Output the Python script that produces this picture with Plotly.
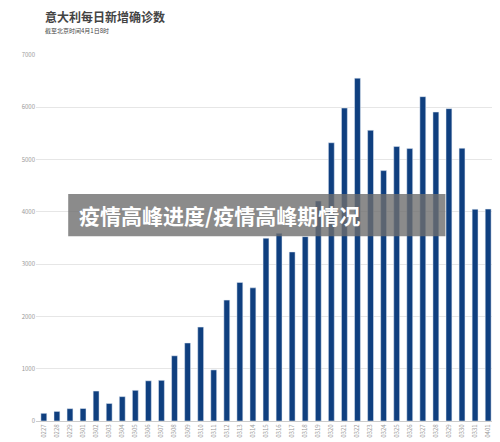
import plotly.graph_objects as go

dates = ["0227", "0228", "0229"] + ["03%02d" % d for d in range(1, 32)] + ["0401"]
cases = [147, 183, 236, 239, 573, 335, 466, 587, 769, 778, 1247, 1492, 1797, 977,
         2313, 2651, 2547, 3497, 3590, 3233, 3526, 4207, 5322, 5986, 6557, 5560,
         4789, 5249, 5210, 6203, 5909, 5974, 5217, 4050, 4053]
y_ticks = [0, 1000, 2000, 3000, 4000, 5000, 6000, 7000]

fig = go.Figure()
fig.add_trace(go.Bar(x=dates, y=cases, marker_color="#0f3f7f", width=0.45))

# value labels, rotated, above each bar
labels = [dict(x=d, y=v, text=str(v), textangle=-90, showarrow=False,
               xanchor="center", yanchor="bottom", yshift=2,
               font=dict(size=7, color="#2f5f9f"))
          for d, v in zip(dates, cases)]

fig.update_layout(
    width=500, height=442, margin=dict(l=28, r=12, t=47, b=24),
    plot_bgcolor="white", paper_bgcolor="white", showlegend=False,
    font=dict(family="Noto Sans CJK SC"),
    xaxis=dict(type="category", tickangle=-90, tickfont=dict(size=6, color="#999"),
               showline=True, linecolor="#ccc", ticks="", range=[-0.6, 34.6]),
    yaxis=dict(range=[0, 7000], tickvals=y_ticks, tickfont=dict(size=6, color="#999"),
               gridcolor="#e6e6e6", zeroline=False),
    annotations=labels + [
        dict(text="<b>意大利每日新增确诊数</b>", x=0.015, y=1.135, xref="paper", yref="paper",
             xanchor="left", yanchor="top", showarrow=False,
             font=dict(size=12, color="#444")),
        dict(text="截至北京时间4月1日8时", x=0.015, y=1.085, xref="paper", yref="paper",
             xanchor="left", yanchor="top", showarrow=False,
             font=dict(size=6, color="#444")),
        dict(text="<b>疫情高峰进度/疫情高峰期情况</b>", x=0.09, y=0.563, xref="paper",
             yref="paper", xanchor="left", yanchor="middle", showarrow=False,
             font=dict(size=21, color="white")),
    ],
    shapes=[dict(type="rect", xref="paper", yref="paper", x0=0.07, x1=0.89,
                 y0=0.505, y1=0.62, fillcolor="rgba(110,110,110,0.8)", line_width=0)],
)
fig.write_html("out.html")
